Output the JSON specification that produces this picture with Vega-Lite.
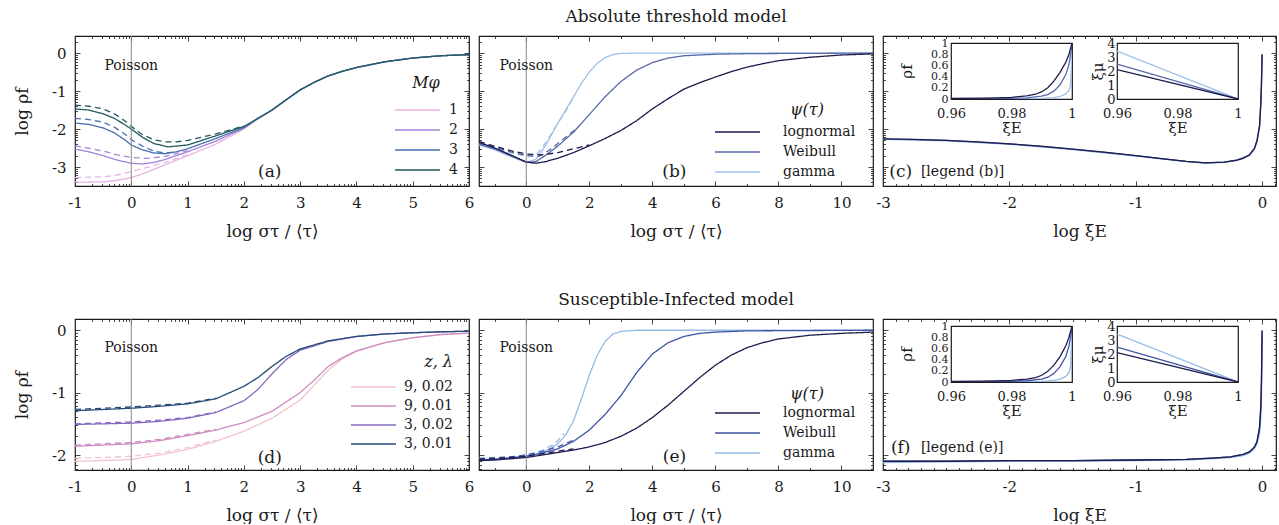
{
"$schema":"https://vega.github.io/schema/vega-lite/v6.json",
"padding":{"left":12,"top":6,"right":0,"bottom":0},
"background":"white",
"bounds":"flush",
"spacing":283,
"config":{
 "font":"DejaVu Serif",
 "view":{"stroke":"#1a1a1a","strokeWidth":1.2},
 "axis":{"domain":false,"grid":false,"labelFont":"DejaVu Serif","labelFontSize":15,"labelColor":"#1a1a1a","titleFont":"DejaVu Serif","titleFontSize":17,"titleFontWeight":"normal","titleColor":"#1a1a1a","tickColor":"#333333","tickWidth":0.9,"tickSize":-5,"labelPadding":14,"labelFlush":false,"labelOverlap":false,"labelBound":false},
 "axisX":{"titlePadding":13},
 "axisY":{"titlePadding":20},
 "legend":{"orient":"none","labelFont":"DejaVu Serif","labelFontSize":14,"labelColor":"#1a1a1a","titleFont":"DejaVu Serif","titleFontSize":16,"titleFontWeight":"normal","titleFontStyle":"italic","titleColor":"#1a1a1a","symbolType":"stroke","symbolStrokeWidth":1.5,"symbolSize":2025,"padding":0,"rowPadding":2,"clipHeight":18},
 "title":{"font":"DejaVu Serif","fontSize":17,"fontWeight":"normal","color":"#1a1a1a","offset":10,"anchor":"middle"},
 "text":{"font":"DejaVu Serif","color":"#1a1a1a"}
},
"resolve":{"scale":{"color":"independent","strokeDash":"independent"}},
"vconcat":[
{"bounds":"flush","spacing":10,"resolve":{"scale":{"color":"independent","strokeDash":"independent"}},
 "hconcat":[
 {"width":394,"height":150,
  "layer":[
   {"data":{"values":[
{"s":"1","k":"sim","x":-1,"y":-3.4},{"s":"1","k":"sim","x":-0.5,"y":-3.39},{"s":"1","k":"sim","x":-0.25,"y":-3.35},{"s":"1","k":"sim","x":0,"y":-3.28},{"s":"1","k":"sim","x":0.2,"y":-3.18},{"s":"1","k":"sim","x":0.4,"y":-3.06},{"s":"1","k":"sim","x":0.6,"y":-2.94},{"s":"1","k":"sim","x":1,"y":-2.7},{"s":"1","k":"sim","x":1.5,"y":-2.4},{"s":"1","k":"sim","x":2,"y":-2.0},{"s":"1","k":"sim","x":2.25,"y":-1.73},{"s":"1","k":"sim","x":2.5,"y":-1.51},{"s":"1","k":"sim","x":2.75,"y":-1.24},{"s":"1","k":"sim","x":3,"y":-0.98},{"s":"1","k":"sim","x":3.25,"y":-0.77},{"s":"1","k":"sim","x":3.5,"y":-0.6},{"s":"1","k":"sim","x":3.75,"y":-0.48},{"s":"1","k":"sim","x":4,"y":-0.38},{"s":"1","k":"sim","x":4.5,"y":-0.23},{"s":"1","k":"sim","x":5,"y":-0.13},{"s":"1","k":"sim","x":5.5,"y":-0.07},{"s":"1","k":"sim","x":6,"y":-0.04},
{"s":"1","k":"th","x":-1,"y":-3.28},{"s":"1","k":"th","x":-0.5,"y":-3.26},{"s":"1","k":"th","x":-0.25,"y":-3.21},{"s":"1","k":"th","x":0,"y":-3.12},{"s":"1","k":"th","x":0.3,"y":-3.0},{"s":"1","k":"th","x":0.6,"y":-2.88},{"s":"1","k":"th","x":1,"y":-2.68},
{"s":"2","k":"sim","x":-1,"y":-2.53},{"s":"2","k":"sim","x":-0.75,"y":-2.6},{"s":"2","k":"sim","x":-0.5,"y":-2.7},{"s":"2","k":"sim","x":-0.25,"y":-2.82},{"s":"2","k":"sim","x":0,"y":-2.9},{"s":"2","k":"sim","x":0.2,"y":-2.92},{"s":"2","k":"sim","x":0.4,"y":-2.88},{"s":"2","k":"sim","x":0.6,"y":-2.8},{"s":"2","k":"sim","x":1,"y":-2.6},{"s":"2","k":"sim","x":1.5,"y":-2.32},{"s":"2","k":"sim","x":2,"y":-1.98},{"s":"2","k":"sim","x":2.25,"y":-1.72},{"s":"2","k":"sim","x":2.5,"y":-1.5},{"s":"2","k":"sim","x":2.75,"y":-1.23},{"s":"2","k":"sim","x":3,"y":-0.97},{"s":"2","k":"sim","x":3.25,"y":-0.77},{"s":"2","k":"sim","x":3.5,"y":-0.6},{"s":"2","k":"sim","x":3.75,"y":-0.48},{"s":"2","k":"sim","x":4,"y":-0.38},{"s":"2","k":"sim","x":4.5,"y":-0.23},{"s":"2","k":"sim","x":5,"y":-0.13},{"s":"2","k":"sim","x":5.5,"y":-0.07},{"s":"2","k":"sim","x":6,"y":-0.04},
{"s":"2","k":"th","x":-1,"y":-2.44},{"s":"2","k":"th","x":-0.5,"y":-2.58},{"s":"2","k":"th","x":-0.25,"y":-2.68},{"s":"2","k":"th","x":0,"y":-2.75},{"s":"2","k":"th","x":0.3,"y":-2.77},{"s":"2","k":"th","x":0.6,"y":-2.72},{"s":"2","k":"th","x":1,"y":-2.57},
{"s":"3","k":"sim","x":-1,"y":-1.84},{"s":"3","k":"sim","x":-0.75,"y":-1.88},{"s":"3","k":"sim","x":-0.5,"y":-1.97},{"s":"3","k":"sim","x":-0.3,"y":-2.1},{"s":"3","k":"sim","x":-0.1,"y":-2.3},{"s":"3","k":"sim","x":0,"y":-2.42},{"s":"3","k":"sim","x":0.2,"y":-2.55},{"s":"3","k":"sim","x":0.4,"y":-2.63},{"s":"3","k":"sim","x":0.6,"y":-2.65},{"s":"3","k":"sim","x":0.8,"y":-2.6},{"s":"3","k":"sim","x":1,"y":-2.52},{"s":"3","k":"sim","x":1.5,"y":-2.25},{"s":"3","k":"sim","x":2,"y":-1.96},{"s":"3","k":"sim","x":2.25,"y":-1.72},{"s":"3","k":"sim","x":2.5,"y":-1.5},{"s":"3","k":"sim","x":2.75,"y":-1.23},{"s":"3","k":"sim","x":3,"y":-0.97},{"s":"3","k":"sim","x":3.25,"y":-0.77},{"s":"3","k":"sim","x":3.5,"y":-0.6},{"s":"3","k":"sim","x":3.75,"y":-0.48},{"s":"3","k":"sim","x":4,"y":-0.38},{"s":"3","k":"sim","x":4.5,"y":-0.23},{"s":"3","k":"sim","x":5,"y":-0.13},{"s":"3","k":"sim","x":5.5,"y":-0.07},{"s":"3","k":"sim","x":6,"y":-0.04},
{"s":"3","k":"th","x":-1,"y":-1.72},{"s":"3","k":"th","x":-0.75,"y":-1.75},{"s":"3","k":"th","x":-0.5,"y":-1.82},{"s":"3","k":"th","x":-0.3,"y":-1.95},{"s":"3","k":"th","x":-0.1,"y":-2.15},{"s":"3","k":"th","x":0,"y":-2.28},{"s":"3","k":"th","x":0.2,"y":-2.45},{"s":"3","k":"th","x":0.4,"y":-2.58},{"s":"3","k":"th","x":0.6,"y":-2.63},{"s":"3","k":"th","x":0.8,"y":-2.6},
{"s":"4","k":"sim","x":-1,"y":-1.47},{"s":"4","k":"sim","x":-0.75,"y":-1.5},{"s":"4","k":"sim","x":-0.5,"y":-1.6},{"s":"4","k":"sim","x":-0.3,"y":-1.72},{"s":"4","k":"sim","x":-0.1,"y":-1.9},{"s":"4","k":"sim","x":0,"y":-2.0},{"s":"4","k":"sim","x":0.2,"y":-2.22},{"s":"4","k":"sim","x":0.4,"y":-2.38},{"s":"4","k":"sim","x":0.65,"y":-2.47},{"s":"4","k":"sim","x":1,"y":-2.42},{"s":"4","k":"sim","x":1.5,"y":-2.18},{"s":"4","k":"sim","x":2,"y":-1.93},{"s":"4","k":"sim","x":2.25,"y":-1.72},{"s":"4","k":"sim","x":2.5,"y":-1.5},{"s":"4","k":"sim","x":2.75,"y":-1.23},{"s":"4","k":"sim","x":3,"y":-0.97},{"s":"4","k":"sim","x":3.25,"y":-0.77},{"s":"4","k":"sim","x":3.5,"y":-0.6},{"s":"4","k":"sim","x":3.75,"y":-0.48},{"s":"4","k":"sim","x":4,"y":-0.38},{"s":"4","k":"sim","x":4.5,"y":-0.23},{"s":"4","k":"sim","x":5,"y":-0.13},{"s":"4","k":"sim","x":5.5,"y":-0.07},{"s":"4","k":"sim","x":6,"y":-0.04},
{"s":"4","k":"th","x":-1,"y":-1.37},{"s":"4","k":"th","x":-0.75,"y":-1.4},{"s":"4","k":"th","x":-0.5,"y":-1.47},{"s":"4","k":"th","x":-0.3,"y":-1.6},{"s":"4","k":"th","x":-0.1,"y":-1.8},{"s":"4","k":"th","x":0,"y":-1.93},{"s":"4","k":"th","x":0.2,"y":-2.15},{"s":"4","k":"th","x":0.4,"y":-2.28},{"s":"4","k":"th","x":0.6,"y":-2.34},{"s":"4","k":"th","x":0.8,"y":-2.34},{"s":"4","k":"th","x":1,"y":-2.3},{"s":"4","k":"th","x":1.5,"y":-2.13},{"s":"4","k":"th","x":2,"y":-1.92}
   ]},
   "mark":{"type":"line","strokeWidth":1.3,"clip":true},
   "encoding":{
    "x":{"field":"x","type":"quantitative","scale":{"domain":[-1,6],"nice":false,"zero":false},"axis":{"orient":"bottom","values":[-1,0,1,2,3,4,5,6],"labelExpr":"datum.value < 0 ? '-' + abs(datum.value) : '' + datum.value","title":"log στ / ⟨τ⟩"}},
    "y":{"field":"y","type":"quantitative","scale":{"domain":[-3.5,0.45],"nice":false,"zero":false},"axis":{"orient":"left","values":[-3,-2,-1,0],"labelExpr":"datum.value < 0 ? '-' + abs(datum.value) : '' + datum.value","title":"log ρf"}},
    "color":{"field":"s","type":"nominal","scale":{"domain":["1","2","3","4"],"range":["#e6b3e3","#a384d8","#4d6db0","#1f5b5f"]},"legend":{"title":"Mφ","legendX":319,"legendY":39,"titleAnchor":"middle","labelOffset":8,"titlePadding":10}},
    "strokeDash":{"field":"k","type":"nominal","scale":{"domain":["sim","th"],"range":[[1,0],[6,4]]},"legend":null}
   }},
   {"data":{"values":[{"x":0}]},"mark":{"type":"rule","color":"#888888","strokeWidth":1},
    "encoding":{"x":{"field":"x","type":"quantitative","scale":{"domain":[-1,6],"nice":false,"zero":false},"axis":{"orient":"bottom","labels":false,"title":null,"tickSize":-2.5,"values":[-0.699,-0.523,-0.398,-0.301,-0.222,-0.155,-0.097,-0.046,0.301,0.477,0.602,0.699,0.778,0.845,0.903,0.954,1.301,1.477,1.602,1.699,1.778,1.845,1.903,1.954,2.301,2.477,2.602,2.699,2.778,2.845,2.903,2.954,3.301,3.477,3.602,3.699,3.778,3.845,3.903,3.954,4.301,4.477,4.602,4.699,4.778,4.845,4.903,4.954,5.301,5.477,5.602,5.699,5.778,5.845,5.903,5.954]}}}},
   {"data":{"values":[{"x":0,"y":-0.34,"t":"Poisson"}]},"mark":{"type":"text","fontSize":14},
    "encoding":{"x":{"field":"x","type":"quantitative","scale":{"domain":[-1,6],"nice":false,"zero":false},"axis":{"orient":"top","labels":false,"title":null,"values":[-1,0,1,2,3,4,5,6]}},
     "y":{"field":"y","type":"quantitative","scale":{"domain":[-3.5,0.45],"nice":false,"zero":false},"axis":{"orient":"left","labels":false,"title":null,"tickSize":-2.5,"values":[-3.398,-3.301,-3.222,-3.155,-3.097,-3.046,-2.699,-2.523,-2.398,-2.301,-2.222,-2.155,-2.097,-2.046,-1.699,-1.523,-1.398,-1.301,-1.222,-1.155,-1.097,-1.046,-0.699,-0.523,-0.398,-0.301,-0.222,-0.155,-0.097,-0.046,0.301]}},
     "text":{"field":"t"}}},
   {"data":{"values":[{"x":2.46,"y":-3.13,"t":"(a)"}]},"mark":{"type":"text","fontSize":17},
    "encoding":{"x":{"field":"x","type":"quantitative","scale":{"domain":[-1,6],"nice":false,"zero":false},"axis":{"orient":"top","labels":false,"title":null,"tickSize":-2.5,"values":[-0.699,-0.523,-0.398,-0.301,-0.222,-0.155,-0.097,-0.046,0.301,0.477,0.602,0.699,0.778,0.845,0.903,0.954,1.301,1.477,1.602,1.699,1.778,1.845,1.903,1.954,2.301,2.477,2.602,2.699,2.778,2.845,2.903,2.954,3.301,3.477,3.602,3.699,3.778,3.845,3.903,3.954,4.301,4.477,4.602,4.699,4.778,4.845,4.903,4.954,5.301,5.477,5.602,5.699,5.778,5.845,5.903,5.954]}},
     "y":{"field":"y","type":"quantitative","scale":{"domain":[-3.5,0.45],"nice":false,"zero":false},"axis":{"orient":"right","labels":false,"title":null,"values":[-3,-2,-1,0]}},
     "text":{"field":"t"}}},
   {"data":{"values":[]},"mark":{"type":"point","opacity":0},
    "encoding":{"x":{"field":"x","type":"quantitative","scale":{"domain":[-1,6],"nice":false,"zero":false},"axis":null},
     "y":{"field":"y","type":"quantitative","scale":{"domain":[-3.5,0.45],"nice":false,"zero":false},"axis":{"orient":"right","labels":false,"title":null,"tickSize":-2.5,"values":[-3.398,-3.301,-3.222,-3.155,-3.097,-3.046,-2.699,-2.523,-2.398,-2.301,-2.222,-2.155,-2.097,-2.046,-1.699,-1.523,-1.398,-1.301,-1.222,-1.155,-1.097,-1.046,-0.699,-0.523,-0.398,-0.301,-0.222,-0.155,-0.097,-0.046,0.301]}}}}
  ],
  "resolve":{"axis":{"x":"independent","y":"independent"}}
 },
 {"width":394,"height":150,"title":{"text":"Absolute threshold model"},
  "layer":[
   {"data":{"values":[
{"s":"gamma","k":"sim","x":-1.5,"y":-2.42},{"s":"gamma","k":"sim","x":-1,"y":-2.55},{"s":"gamma","k":"sim","x":-0.5,"y":-2.72},{"s":"gamma","k":"sim","x":0,"y":-2.88},{"s":"gamma","k":"sim","x":0.3,"y":-2.8},{"s":"gamma","k":"sim","x":0.6,"y":-2.45},{"s":"gamma","k":"sim","x":0.8,"y":-2.15},{"s":"gamma","k":"sim","x":1,"y":-1.85},{"s":"gamma","k":"sim","x":1.25,"y":-1.5},{"s":"gamma","k":"sim","x":1.5,"y":-1.15},{"s":"gamma","k":"sim","x":1.75,"y":-0.8},{"s":"gamma","k":"sim","x":2,"y":-0.5},{"s":"gamma","k":"sim","x":2.25,"y":-0.27},{"s":"gamma","k":"sim","x":2.5,"y":-0.12},{"s":"gamma","k":"sim","x":2.75,"y":-0.04},{"s":"gamma","k":"sim","x":3,"y":-0.01},{"s":"gamma","k":"sim","x":3.5,"y":0},{"s":"gamma","k":"sim","x":11,"y":0},
{"s":"gamma","k":"th","x":-1.5,"y":-2.4},{"s":"gamma","k":"th","x":-1,"y":-2.5},{"s":"gamma","k":"th","x":-0.5,"y":-2.62},{"s":"gamma","k":"th","x":0,"y":-2.72},{"s":"gamma","k":"th","x":0.3,"y":-2.7},{"s":"gamma","k":"th","x":0.6,"y":-2.38},{"s":"gamma","k":"th","x":0.9,"y":-1.97},{"s":"gamma","k":"th","x":1.2,"y":-1.6},{"s":"gamma","k":"th","x":1.5,"y":-1.17},
{"s":"Weibull","k":"sim","x":-1.5,"y":-2.4},{"s":"Weibull","k":"sim","x":-1,"y":-2.52},{"s":"Weibull","k":"sim","x":-0.5,"y":-2.7},{"s":"Weibull","k":"sim","x":0,"y":-2.87},{"s":"Weibull","k":"sim","x":0.3,"y":-2.86},{"s":"Weibull","k":"sim","x":0.6,"y":-2.7},{"s":"Weibull","k":"sim","x":1,"y":-2.45},{"s":"Weibull","k":"sim","x":1.5,"y":-2.08},{"s":"Weibull","k":"sim","x":2,"y":-1.62},{"s":"Weibull","k":"sim","x":2.5,"y":-1.15},{"s":"Weibull","k":"sim","x":3,"y":-0.75},{"s":"Weibull","k":"sim","x":3.5,"y":-0.45},{"s":"Weibull","k":"sim","x":4,"y":-0.25},{"s":"Weibull","k":"sim","x":4.5,"y":-0.13},{"s":"Weibull","k":"sim","x":5,"y":-0.07},{"s":"Weibull","k":"sim","x":6,"y":-0.03},{"s":"Weibull","k":"sim","x":7,"y":-0.015},{"s":"Weibull","k":"sim","x":8,"y":-0.01},{"s":"Weibull","k":"sim","x":11,"y":0},
{"s":"Weibull","k":"th","x":-1.5,"y":-2.38},{"s":"Weibull","k":"th","x":-1,"y":-2.48},{"s":"Weibull","k":"th","x":-0.5,"y":-2.6},{"s":"Weibull","k":"th","x":0,"y":-2.7},{"s":"Weibull","k":"th","x":0.4,"y":-2.72},{"s":"Weibull","k":"th","x":0.8,"y":-2.52},{"s":"Weibull","k":"th","x":1.2,"y":-2.25},{"s":"Weibull","k":"th","x":1.6,"y":-1.98},
{"s":"lognormal","k":"sim","x":-1.5,"y":-2.35},{"s":"lognormal","k":"sim","x":-1,"y":-2.5},{"s":"lognormal","k":"sim","x":-0.5,"y":-2.68},{"s":"lognormal","k":"sim","x":0,"y":-2.87},{"s":"lognormal","k":"sim","x":0.3,"y":-2.9},{"s":"lognormal","k":"sim","x":0.6,"y":-2.86},{"s":"lognormal","k":"sim","x":1,"y":-2.77},{"s":"lognormal","k":"sim","x":1.5,"y":-2.62},{"s":"lognormal","k":"sim","x":2,"y":-2.44},{"s":"lognormal","k":"sim","x":2.5,"y":-2.25},{"s":"lognormal","k":"sim","x":3,"y":-2.04},{"s":"lognormal","k":"sim","x":3.5,"y":-1.78},{"s":"lognormal","k":"sim","x":4,"y":-1.47},{"s":"lognormal","k":"sim","x":4.5,"y":-1.2},{"s":"lognormal","k":"sim","x":5,"y":-0.95},{"s":"lognormal","k":"sim","x":5.5,"y":-0.78},{"s":"lognormal","k":"sim","x":6,"y":-0.63},{"s":"lognormal","k":"sim","x":6.5,"y":-0.49},{"s":"lognormal","k":"sim","x":7,"y":-0.37},{"s":"lognormal","k":"sim","x":7.5,"y":-0.28},{"s":"lognormal","k":"sim","x":8,"y":-0.2},{"s":"lognormal","k":"sim","x":9,"y":-0.11},{"s":"lognormal","k":"sim","x":10,"y":-0.05},{"s":"lognormal","k":"sim","x":11,"y":-0.02},
{"s":"lognormal","k":"th","x":-1.5,"y":-2.33},{"s":"lognormal","k":"th","x":-1,"y":-2.45},{"s":"lognormal","k":"th","x":-0.5,"y":-2.57},{"s":"lognormal","k":"th","x":0,"y":-2.66},{"s":"lognormal","k":"th","x":0.5,"y":-2.68},{"s":"lognormal","k":"th","x":1,"y":-2.62},{"s":"lognormal","k":"th","x":1.5,"y":-2.52},{"s":"lognormal","k":"th","x":2,"y":-2.42}
   ]},
   "mark":{"type":"line","strokeWidth":1.3,"clip":true},
   "encoding":{
    "x":{"field":"x","type":"quantitative","scale":{"domain":[-1.5,11],"nice":false,"zero":false},"axis":{"orient":"bottom","values":[0,2,4,6,8,10],"title":"log στ / ⟨τ⟩"}},
    "y":{"field":"y","type":"quantitative","scale":{"domain":[-3.5,0.45],"nice":false,"zero":false},"axis":{"orient":"left","values":[-3,-2,-1,0],"labels":false,"title":null}},
    "color":{"field":"s","type":"nominal","scale":{"domain":["lognormal","Weibull","gamma"],"range":["#1c1b4c","#5869a9","#9ec0e9"]},"legend":{"title":"ψ(τ)","legendX":235,"legendY":66,"titleAnchor":"middle","labelOffset":22,"titlePadding":5,"encode":{"title":{"update":{"dx":{"value":22}}}}}},
    "strokeDash":{"field":"k","type":"nominal","scale":{"domain":["sim","th"],"range":[[1,0],[6,4]]},"legend":null}
   }},
   {"data":{"values":[{"x":0}]},"mark":{"type":"rule","color":"#888888","strokeWidth":1},
    "encoding":{"x":{"field":"x","type":"quantitative","scale":{"domain":[-1.5,11],"nice":false,"zero":false},"axis":{"orient":"bottom","labels":false,"title":null,"tickSize":-2.5,"values":[-1,1,3,5,7,9]}}}},
   {"data":{"values":[{"x":0,"y":-0.34,"t":"Poisson"}]},"mark":{"type":"text","fontSize":14},
    "encoding":{"x":{"field":"x","type":"quantitative","scale":{"domain":[-1.5,11],"nice":false,"zero":false},"axis":{"orient":"top","labels":false,"title":null,"values":[0,2,4,6,8,10]}},
     "y":{"field":"y","type":"quantitative","scale":{"domain":[-3.5,0.45],"nice":false,"zero":false},"axis":{"orient":"left","labels":false,"title":null,"tickSize":-2.5,"values":[-3.398,-3.301,-3.222,-3.155,-3.097,-3.046,-2.699,-2.523,-2.398,-2.301,-2.222,-2.155,-2.097,-2.046,-1.699,-1.523,-1.398,-1.301,-1.222,-1.155,-1.097,-1.046,-0.699,-0.523,-0.398,-0.301,-0.222,-0.155,-0.097,-0.046,0.301]}},
     "text":{"field":"t"}}},
   {"data":{"values":[{"x":4.7,"y":-3.13,"t":"(b)"}]},"mark":{"type":"text","fontSize":17},
    "encoding":{"x":{"field":"x","type":"quantitative","scale":{"domain":[-1.5,11],"nice":false,"zero":false},"axis":{"orient":"top","labels":false,"title":null,"tickSize":-2.5,"values":[-1,1,3,5,7,9]}},
     "y":{"field":"y","type":"quantitative","scale":{"domain":[-3.5,0.45],"nice":false,"zero":false},"axis":{"orient":"right","labels":false,"title":null,"values":[-3,-2,-1,0]}},
     "text":{"field":"t"}}},
   {"data":{"values":[]},"mark":{"type":"point","opacity":0},
    "encoding":{"x":{"field":"x","type":"quantitative","scale":{"domain":[-1.5,11],"nice":false,"zero":false},"axis":null},
     "y":{"field":"y","type":"quantitative","scale":{"domain":[-3.5,0.45],"nice":false,"zero":false},"axis":{"orient":"right","labels":false,"title":null,"tickSize":-2.5,"values":[-3.398,-3.301,-3.222,-3.155,-3.097,-3.046,-2.699,-2.523,-2.398,-2.301,-2.222,-2.155,-2.097,-2.046,-1.699,-1.523,-1.398,-1.301,-1.222,-1.155,-1.097,-1.046,-0.699,-0.523,-0.398,-0.301,-0.222,-0.155,-0.097,-0.046,0.301]}}}}
  ],
  "resolve":{"axis":{"x":"independent","y":"independent"}}
 },
 {"bounds":"flush","spacing":0,"resolve":{"scale":{"color":"independent","strokeDash":"independent"}},
  "vconcat":[
  {"bounds":"flush","spacing":6,"resolve":{"scale":{"color":"independent"}},
   "vconcat":[
    {"width":1,"height":1,"view":{"stroke":null},"data":{"values":[{}]},"mark":{"type":"point","opacity":0},"encoding":{}},
    {"bounds":"flush","spacing":45,"resolve":{"scale":{"color":"independent"}},
     "hconcat":[
      {"width":23,"height":1,"view":{"stroke":null},"data":{"values":[{}]},"mark":{"type":"point","opacity":0},"encoding":{}},
      {"width":121,"height":56,
       "data":{"values":[
{"s":"gamma","x":0.96,"y":0.002},{"s":"gamma","x":0.98,"y":0.004},{"s":"gamma","x":0.99,"y":0.01},{"s":"gamma","x":0.994,"y":0.025},{"s":"gamma","x":0.996,"y":0.045},{"s":"gamma","x":0.998,"y":0.09},{"s":"gamma","x":0.999,"y":0.15},{"s":"gamma","x":0.9995,"y":0.25},{"s":"gamma","x":1,"y":0.8},
{"s":"Weibull","x":0.96,"y":0.005},{"s":"Weibull","x":0.97,"y":0.008},{"s":"Weibull","x":0.98,"y":0.012},{"s":"Weibull","x":0.985,"y":0.02},{"s":"Weibull","x":0.99,"y":0.05},{"s":"Weibull","x":0.992,"y":0.08},{"s":"Weibull","x":0.994,"y":0.14},{"s":"Weibull","x":0.996,"y":0.25},{"s":"Weibull","x":0.998,"y":0.44},{"s":"Weibull","x":0.999,"y":0.62},{"s":"Weibull","x":1,"y":0.95},
{"s":"lognormal","x":0.96,"y":0.01},{"s":"lognormal","x":0.97,"y":0.015},{"s":"lognormal","x":0.975,"y":0.02},{"s":"lognormal","x":0.98,"y":0.03},{"s":"lognormal","x":0.985,"y":0.055},{"s":"lognormal","x":0.988,"y":0.085},{"s":"lognormal","x":0.99,"y":0.13},{"s":"lognormal","x":0.992,"y":0.2},{"s":"lognormal","x":0.994,"y":0.32},{"s":"lognormal","x":0.996,"y":0.47},{"s":"lognormal","x":0.998,"y":0.66},{"s":"lognormal","x":0.999,"y":0.8},{"s":"lognormal","x":1,"y":1.0}
       ]},
       "mark":{"type":"line","strokeWidth":1.3,"clip":true},
       "encoding":{
        "x":{"field":"x","type":"quantitative","scale":{"domain":[0.96,1],"nice":false,"zero":false},"axis":{"values":[0.96,0.98,1],"format":".2~f","title":"ξE","ticks":false,"tickSize":0,"labelFontSize":13,"labelPadding":8,"titlePadding":0,"titleFontSize":15}},
        "y":{"field":"y","type":"quantitative","scale":{"domain":[0,1],"nice":false},"axis":{"values":[0,0.2,0.4,0.6,0.8,1],"format":".1~f","title":"ρf","ticks":false,"tickSize":0,"labelFontSize":11,"labelPadding":3,"titlePadding":16,"titleFontSize":15}},
        "color":{"field":"s","type":"nominal","scale":{"domain":["lognormal","Weibull","gamma"],"range":["#1c1b4c","#5869a9","#9ec0e9"]},"legend":null}
       }},
      {"width":121,"height":56,
       "data":{"values":[
{"s":"gamma","x":0.96,"y":3.43},{"s":"gamma","x":1,"y":0},
{"s":"Weibull","x":0.96,"y":2.5},{"s":"Weibull","x":1,"y":0},
{"s":"lognormal","x":0.96,"y":2.1},{"s":"lognormal","x":1,"y":0}
       ]},
       "mark":{"type":"line","strokeWidth":1.3,"clip":true},
       "encoding":{
        "x":{"field":"x","type":"quantitative","scale":{"domain":[0.96,1],"nice":false,"zero":false},"axis":{"values":[0.96,0.98,1],"format":".2~f","title":"ξE","ticks":false,"tickSize":0,"labelFontSize":13,"labelPadding":8,"titlePadding":0,"titleFontSize":15}},
        "y":{"field":"y","type":"quantitative","scale":{"domain":[0,4],"nice":false},"axis":{"values":[0,1,2,3,4],"format":"d","title":"ξμ","ticks":false,"tickSize":0,"labelFontSize":13,"labelPadding":2,"titlePadding":1,"titleFontSize":15}},
        "color":{"field":"s","type":"nominal","scale":{"domain":["lognormal","Weibull","gamma"],"range":["#1c1b4c","#5869a9","#9ec0e9"]},"legend":null}
       }}
     ]}
   ]},
  {"width":393,"height":150,
   "layer":[
    {"data":{"values":[
{"s":"gamma","x":-3,"y":-2.27},{"s":"gamma","x":-2.5,"y":-2.31},{"s":"gamma","x":-2,"y":-2.4},{"s":"gamma","x":-1.5,"y":-2.54},{"s":"gamma","x":-1,"y":-2.71},{"s":"gamma","x":-0.6,"y":-2.86},{"s":"gamma","x":-0.45,"y":-2.9},{"s":"gamma","x":-0.3,"y":-2.88},{"s":"gamma","x":-0.2,"y":-2.83},{"s":"gamma","x":-0.1,"y":-2.7},{"s":"gamma","x":-0.06,"y":-2.53},{"s":"gamma","x":-0.04,"y":-2.34},{"s":"gamma","x":-0.02,"y":-1.95},{"s":"gamma","x":-0.01,"y":-1.36},{"s":"gamma","x":-0.005,"y":-0.85},{"s":"gamma","x":0,"y":-0.05},
{"s":"Weibull","x":-3,"y":-2.26},{"s":"Weibull","x":-2.5,"y":-2.3},{"s":"Weibull","x":-2,"y":-2.39},{"s":"Weibull","x":-1.5,"y":-2.53},{"s":"Weibull","x":-1,"y":-2.7},{"s":"Weibull","x":-0.6,"y":-2.85},{"s":"Weibull","x":-0.45,"y":-2.89},{"s":"Weibull","x":-0.3,"y":-2.87},{"s":"Weibull","x":-0.2,"y":-2.82},{"s":"Weibull","x":-0.1,"y":-2.69},{"s":"Weibull","x":-0.06,"y":-2.51},{"s":"Weibull","x":-0.04,"y":-2.31},{"s":"Weibull","x":-0.02,"y":-1.92},{"s":"Weibull","x":-0.01,"y":-1.32},{"s":"Weibull","x":-0.005,"y":-0.82},{"s":"Weibull","x":0,"y":-0.04},
{"s":"lognormal","x":-3,"y":-2.26},{"s":"lognormal","x":-2.75,"y":-2.27},{"s":"lognormal","x":-2.5,"y":-2.3},{"s":"lognormal","x":-2.25,"y":-2.34},{"s":"lognormal","x":-2,"y":-2.39},{"s":"lognormal","x":-1.75,"y":-2.45},{"s":"lognormal","x":-1.5,"y":-2.53},{"s":"lognormal","x":-1.25,"y":-2.61},{"s":"lognormal","x":-1,"y":-2.7},{"s":"lognormal","x":-0.8,"y":-2.78},{"s":"lognormal","x":-0.6,"y":-2.85},{"s":"lognormal","x":-0.45,"y":-2.89},{"s":"lognormal","x":-0.3,"y":-2.87},{"s":"lognormal","x":-0.2,"y":-2.82},{"s":"lognormal","x":-0.15,"y":-2.77},{"s":"lognormal","x":-0.1,"y":-2.68},{"s":"lognormal","x":-0.06,"y":-2.5},{"s":"lognormal","x":-0.04,"y":-2.3},{"s":"lognormal","x":-0.02,"y":-1.9},{"s":"lognormal","x":-0.01,"y":-1.3},{"s":"lognormal","x":-0.005,"y":-0.8},{"s":"lognormal","x":0,"y":-0.03}
    ]},
    "mark":{"type":"line","strokeWidth":1.3,"clip":true},
    "encoding":{
     "x":{"field":"x","type":"quantitative","scale":{"domain":[-3,0.11],"nice":false,"zero":false},"axis":{"orient":"bottom","values":[-3,-2,-1,0],"labelExpr":"datum.value < 0 ? '-' + abs(datum.value) : '' + datum.value","title":"log ξE"}},
     "y":{"field":"y","type":"quantitative","scale":{"domain":[-3.5,0.45],"nice":false,"zero":false},"axis":{"orient":"left","values":[-3,-2,-1,0],"labels":false,"title":null}},
     "color":{"field":"s","type":"nominal","scale":{"domain":["lognormal","Weibull","gamma"],"range":["#1c1b4c","#5869a9","#9ec0e9"]},"legend":null}
    }},
    {"data":{"values":[{"x":-2.86,"y":-3.13,"t":"(c)"}]},"mark":{"type":"text","fontSize":17},
     "encoding":{"x":{"field":"x","type":"quantitative","scale":{"domain":[-3,0.11],"nice":false,"zero":false},"axis":{"orient":"bottom","labels":false,"title":null,"tickSize":-2.5,"values":[-2.9,-2.8,-2.7,-2.6,-2.5,-2.4,-2.3,-2.2,-2.1,-1.9,-1.8,-1.7,-1.6,-1.5,-1.4,-1.3,-1.2,-1.1,-0.9,-0.8,-0.7,-0.6,-0.5,-0.4,-0.3,-0.2,-0.1,0.1]}},
      "y":{"field":"y","type":"quantitative","scale":{"domain":[-3.5,0.45],"nice":false,"zero":false},"axis":{"orient":"left","labels":false,"title":null,"tickSize":-2.5,"values":[-3.398,-3.301,-3.222,-3.155,-3.097,-3.046,-2.699,-2.523,-2.398,-2.301,-2.222,-2.155,-2.097,-2.046,-1.699,-1.523,-1.398,-1.301,-1.222,-1.155,-1.097,-1.046,-0.699,-0.523,-0.398,-0.301,-0.222,-0.155,-0.097,-0.046,0.301]}},
      "text":{"field":"t"}}},
    {"data":{"values":[{"x":-2.7,"y":-3.13,"t":"[legend (b)]"}]},"mark":{"type":"text","fontSize":14,"align":"left"},
     "encoding":{"x":{"field":"x","type":"quantitative","scale":{"domain":[-3,0.11],"nice":false,"zero":false},"axis":{"orient":"top","labels":false,"title":null,"values":[-3,-2,-1,0]}},
      "y":{"field":"y","type":"quantitative","scale":{"domain":[-3.5,0.45],"nice":false,"zero":false},"axis":{"orient":"right","labels":false,"title":null,"values":[-3,-2,-1,0]}},
      "text":{"field":"t"}}},
    {"data":{"values":[]},"mark":{"type":"point","opacity":0},
     "encoding":{"x":{"field":"x","type":"quantitative","scale":{"domain":[-3,0.11],"nice":false,"zero":false},"axis":{"orient":"top","labels":false,"title":null,"tickSize":-2.5,"values":[-2.9,-2.8,-2.7,-2.6,-2.5,-2.4,-2.3,-2.2,-2.1,-1.9,-1.8,-1.7,-1.6,-1.5,-1.4,-1.3,-1.2,-1.1,-0.9,-0.8,-0.7,-0.6,-0.5,-0.4,-0.3,-0.2,-0.1,0.1]}},
      "y":{"field":"y","type":"quantitative","scale":{"domain":[-3.5,0.45],"nice":false,"zero":false},"axis":{"orient":"right","labels":false,"title":null,"tickSize":-2.5,"values":[-3.398,-3.301,-3.222,-3.155,-3.097,-3.046,-2.699,-2.523,-2.398,-2.301,-2.222,-2.155,-2.097,-2.046,-1.699,-1.523,-1.398,-1.301,-1.222,-1.155,-1.097,-1.046,-0.699,-0.523,-0.398,-0.301,-0.222,-0.155,-0.097,-0.046,0.301]}}}}
   ],
   "resolve":{"axis":{"x":"independent","y":"independent"}}
  }
  ]}
 ]},
{"bounds":"flush","spacing":10,"resolve":{"scale":{"color":"independent","strokeDash":"independent"}},
 "hconcat":[
 {"width":394,"height":151,
  "layer":[
   {"data":{"values":[
{"s":"9, 0.02","k":"sim","x":-1,"y":-2.1},{"s":"9, 0.02","k":"sim","x":-0.5,"y":-2.09},{"s":"9, 0.02","k":"sim","x":0,"y":-2.07},{"s":"9, 0.02","k":"sim","x":0.5,"y":-2.0},{"s":"9, 0.02","k":"sim","x":1,"y":-1.91},{"s":"9, 0.02","k":"sim","x":1.5,"y":-1.78},{"s":"9, 0.02","k":"sim","x":2,"y":-1.62},{"s":"9, 0.02","k":"sim","x":2.5,"y":-1.41},{"s":"9, 0.02","k":"sim","x":3,"y":-1.12},{"s":"9, 0.02","k":"sim","x":3.25,"y":-0.88},{"s":"9, 0.02","k":"sim","x":3.5,"y":-0.64},{"s":"9, 0.02","k":"sim","x":3.75,"y":-0.46},{"s":"9, 0.02","k":"sim","x":4,"y":-0.34},{"s":"9, 0.02","k":"sim","x":4.5,"y":-0.2},{"s":"9, 0.02","k":"sim","x":5,"y":-0.12},{"s":"9, 0.02","k":"sim","x":5.5,"y":-0.07},{"s":"9, 0.02","k":"sim","x":6,"y":-0.045},
{"s":"9, 0.02","k":"th","x":-1,"y":-2.05},{"s":"9, 0.02","k":"th","x":-0.5,"y":-2.04},{"s":"9, 0.02","k":"th","x":0,"y":-2.02},{"s":"9, 0.02","k":"th","x":0.5,"y":-1.97},{"s":"9, 0.02","k":"th","x":1,"y":-1.88},{"s":"9, 0.02","k":"th","x":1.5,"y":-1.76},
{"s":"9, 0.01","k":"sim","x":-1,"y":-1.86},{"s":"9, 0.01","k":"sim","x":-0.5,"y":-1.84},{"s":"9, 0.01","k":"sim","x":0,"y":-1.82},{"s":"9, 0.01","k":"sim","x":0.5,"y":-1.77},{"s":"9, 0.01","k":"sim","x":1,"y":-1.69},{"s":"9, 0.01","k":"sim","x":1.5,"y":-1.6},{"s":"9, 0.01","k":"sim","x":2,"y":-1.48},{"s":"9, 0.01","k":"sim","x":2.5,"y":-1.3},{"s":"9, 0.01","k":"sim","x":3,"y":-1.0},{"s":"9, 0.01","k":"sim","x":3.25,"y":-0.8},{"s":"9, 0.01","k":"sim","x":3.5,"y":-0.58},{"s":"9, 0.01","k":"sim","x":3.75,"y":-0.44},{"s":"9, 0.01","k":"sim","x":4,"y":-0.33},{"s":"9, 0.01","k":"sim","x":4.5,"y":-0.2},{"s":"9, 0.01","k":"sim","x":5,"y":-0.12},{"s":"9, 0.01","k":"sim","x":5.5,"y":-0.07},{"s":"9, 0.01","k":"sim","x":6,"y":-0.045},
{"s":"9, 0.01","k":"th","x":-1,"y":-1.84},{"s":"9, 0.01","k":"th","x":0,"y":-1.8},{"s":"9, 0.01","k":"th","x":0.5,"y":-1.75},{"s":"9, 0.01","k":"th","x":1,"y":-1.67},{"s":"9, 0.01","k":"th","x":1.5,"y":-1.59},
{"s":"3, 0.02","k":"sim","x":-1,"y":-1.51},{"s":"3, 0.02","k":"sim","x":-0.5,"y":-1.5},{"s":"3, 0.02","k":"sim","x":0,"y":-1.49},{"s":"3, 0.02","k":"sim","x":0.5,"y":-1.46},{"s":"3, 0.02","k":"sim","x":1,"y":-1.41},{"s":"3, 0.02","k":"sim","x":1.5,"y":-1.32},{"s":"3, 0.02","k":"sim","x":2,"y":-1.13},{"s":"3, 0.02","k":"sim","x":2.25,"y":-0.95},{"s":"3, 0.02","k":"sim","x":2.5,"y":-0.7},{"s":"3, 0.02","k":"sim","x":2.75,"y":-0.47},{"s":"3, 0.02","k":"sim","x":3,"y":-0.32},{"s":"3, 0.02","k":"sim","x":3.5,"y":-0.18},{"s":"3, 0.02","k":"sim","x":4,"y":-0.1},{"s":"3, 0.02","k":"sim","x":4.5,"y":-0.06},{"s":"3, 0.02","k":"sim","x":5,"y":-0.04},{"s":"3, 0.02","k":"sim","x":6,"y":-0.015},
{"s":"3, 0.02","k":"th","x":-1,"y":-1.5},{"s":"3, 0.02","k":"th","x":0,"y":-1.47},{"s":"3, 0.02","k":"th","x":0.5,"y":-1.44},{"s":"3, 0.02","k":"th","x":1,"y":-1.4},{"s":"3, 0.02","k":"th","x":1.5,"y":-1.31},
{"s":"3, 0.01","k":"sim","x":-1,"y":-1.29},{"s":"3, 0.01","k":"sim","x":-0.5,"y":-1.27},{"s":"3, 0.01","k":"sim","x":0,"y":-1.25},{"s":"3, 0.01","k":"sim","x":0.5,"y":-1.22},{"s":"3, 0.01","k":"sim","x":1,"y":-1.18},{"s":"3, 0.01","k":"sim","x":1.5,"y":-1.1},{"s":"3, 0.01","k":"sim","x":2,"y":-0.9},{"s":"3, 0.01","k":"sim","x":2.25,"y":-0.76},{"s":"3, 0.01","k":"sim","x":2.5,"y":-0.58},{"s":"3, 0.01","k":"sim","x":2.75,"y":-0.42},{"s":"3, 0.01","k":"sim","x":3,"y":-0.3},{"s":"3, 0.01","k":"sim","x":3.5,"y":-0.17},{"s":"3, 0.01","k":"sim","x":4,"y":-0.1},{"s":"3, 0.01","k":"sim","x":4.5,"y":-0.06},{"s":"3, 0.01","k":"sim","x":5,"y":-0.04},{"s":"3, 0.01","k":"sim","x":5.5,"y":-0.025},{"s":"3, 0.01","k":"sim","x":6,"y":-0.015},
{"s":"3, 0.01","k":"th","x":-1,"y":-1.27},{"s":"3, 0.01","k":"th","x":0,"y":-1.23},{"s":"3, 0.01","k":"th","x":0.5,"y":-1.2},{"s":"3, 0.01","k":"th","x":1,"y":-1.17},{"s":"3, 0.01","k":"th","x":1.5,"y":-1.09}
   ]},
   "mark":{"type":"line","strokeWidth":1.3,"clip":true},
   "encoding":{
    "x":{"field":"x","type":"quantitative","scale":{"domain":[-1,6],"nice":false,"zero":false},"axis":{"orient":"bottom","values":[-1,0,1,2,3,4,5,6],"labelExpr":"datum.value < 0 ? '-' + abs(datum.value) : '' + datum.value","title":"log στ / ⟨τ⟩"}},
    "y":{"field":"y","type":"quantitative","scale":{"domain":[-2.24,0.18],"nice":false,"zero":false},"axis":{"orient":"left","values":[-2,-1,0],"labelExpr":"datum.value < 0 ? '-' + abs(datum.value) : '' + datum.value","title":"log ρf"}},
    "color":{"field":"s","type":"nominal","scale":{"domain":["9, 0.02","9, 0.01","3, 0.02","3, 0.01"],"range":["#f1c3ca","#cc8cc2","#8468c0","#244b78"]},"legend":{"title":"z, λ","legendX":275,"legendY":35,"titleAnchor":"end","labelOffset":7,"titlePadding":8,"rowPadding":1}},
    "strokeDash":{"field":"k","type":"nominal","scale":{"domain":["sim","th"],"range":[[1,0],[6,4]]},"legend":null}
   }},
   {"data":{"values":[{"x":0}]},"mark":{"type":"rule","color":"#888888","strokeWidth":1},
    "encoding":{"x":{"field":"x","type":"quantitative","scale":{"domain":[-1,6],"nice":false,"zero":false},"axis":{"orient":"bottom","labels":false,"title":null,"tickSize":-2.5,"values":[-0.699,-0.523,-0.398,-0.301,-0.222,-0.155,-0.097,-0.046,0.301,0.477,0.602,0.699,0.778,0.845,0.903,0.954,1.301,1.477,1.602,1.699,1.778,1.845,1.903,1.954,2.301,2.477,2.602,2.699,2.778,2.845,2.903,2.954,3.301,3.477,3.602,3.699,3.778,3.845,3.903,3.954,4.301,4.477,4.602,4.699,4.778,4.845,4.903,4.954,5.301,5.477,5.602,5.699,5.778,5.845,5.903,5.954]}}}},
   {"data":{"values":[{"x":0,"y":-0.29,"t":"Poisson"}]},"mark":{"type":"text","fontSize":14},
    "encoding":{"x":{"field":"x","type":"quantitative","scale":{"domain":[-1,6],"nice":false,"zero":false},"axis":{"orient":"top","labels":false,"title":null,"values":[-1,0,1,2,3,4,5,6]}},
     "y":{"field":"y","type":"quantitative","scale":{"domain":[-2.24,0.18],"nice":false,"zero":false},"axis":{"orient":"left","labels":false,"title":null,"tickSize":-2.5,"values":[-2.222,-2.155,-2.097,-2.046,-1.699,-1.523,-1.398,-1.301,-1.222,-1.155,-1.097,-1.046,-0.699,-0.523,-0.398,-0.301,-0.222,-0.155,-0.097,-0.046]}},
     "text":{"field":"t"}}},
   {"data":{"values":[{"x":2.46,"y":-2.05,"t":"(d)"}]},"mark":{"type":"text","fontSize":17},
    "encoding":{"x":{"field":"x","type":"quantitative","scale":{"domain":[-1,6],"nice":false,"zero":false},"axis":{"orient":"top","labels":false,"title":null,"tickSize":-2.5,"values":[-0.699,-0.523,-0.398,-0.301,-0.222,-0.155,-0.097,-0.046,0.301,0.477,0.602,0.699,0.778,0.845,0.903,0.954,1.301,1.477,1.602,1.699,1.778,1.845,1.903,1.954,2.301,2.477,2.602,2.699,2.778,2.845,2.903,2.954,3.301,3.477,3.602,3.699,3.778,3.845,3.903,3.954,4.301,4.477,4.602,4.699,4.778,4.845,4.903,4.954,5.301,5.477,5.602,5.699,5.778,5.845,5.903,5.954]}},
     "y":{"field":"y","type":"quantitative","scale":{"domain":[-2.24,0.18],"nice":false,"zero":false},"axis":{"orient":"right","labels":false,"title":null,"values":[-2,-1,0]}},
     "text":{"field":"t"}}},
   {"data":{"values":[]},"mark":{"type":"point","opacity":0},
    "encoding":{"x":{"field":"x","type":"quantitative","scale":{"domain":[-1,6],"nice":false,"zero":false},"axis":null},
     "y":{"field":"y","type":"quantitative","scale":{"domain":[-2.24,0.18],"nice":false,"zero":false},"axis":{"orient":"right","labels":false,"title":null,"tickSize":-2.5,"values":[-2.222,-2.155,-2.097,-2.046,-1.699,-1.523,-1.398,-1.301,-1.222,-1.155,-1.097,-1.046,-0.699,-0.523,-0.398,-0.301,-0.222,-0.155,-0.097,-0.046]}}}}
  ],
  "resolve":{"axis":{"x":"independent","y":"independent"}}
 },
 {"width":394,"height":151,"title":{"text":"Susceptible-Infected model"},
  "layer":[
   {"data":{"values":[
{"s":"gamma","k":"sim","x":-1.5,"y":-2.07},{"s":"gamma","k":"sim","x":-1,"y":-2.06},{"s":"gamma","k":"sim","x":-0.5,"y":-2.04},{"s":"gamma","k":"sim","x":0,"y":-2.02},{"s":"gamma","k":"sim","x":0.5,"y":-1.96},{"s":"gamma","k":"sim","x":0.75,"y":-1.9},{"s":"gamma","k":"sim","x":1,"y":-1.82},{"s":"gamma","k":"sim","x":1.25,"y":-1.68},{"s":"gamma","k":"sim","x":1.5,"y":-1.45},{"s":"gamma","k":"sim","x":1.75,"y":-1.1},{"s":"gamma","k":"sim","x":2,"y":-0.72},{"s":"gamma","k":"sim","x":2.25,"y":-0.4},{"s":"gamma","k":"sim","x":2.5,"y":-0.18},{"s":"gamma","k":"sim","x":2.75,"y":-0.06},{"s":"gamma","k":"sim","x":3,"y":-0.02},{"s":"gamma","k":"sim","x":3.5,"y":0},{"s":"gamma","k":"sim","x":11,"y":0},
{"s":"gamma","k":"th","x":-1.5,"y":-2.05},{"s":"gamma","k":"th","x":-0.5,"y":-2.03},{"s":"gamma","k":"th","x":0,"y":-2.0},{"s":"gamma","k":"th","x":0.5,"y":-1.93},{"s":"gamma","k":"th","x":0.9,"y":-1.82},{"s":"gamma","k":"th","x":1.2,"y":-1.66},
{"s":"Weibull","k":"sim","x":-1.5,"y":-2.08},{"s":"Weibull","k":"sim","x":-1,"y":-2.07},{"s":"Weibull","k":"sim","x":-0.5,"y":-2.05},{"s":"Weibull","k":"sim","x":0,"y":-2.02},{"s":"Weibull","k":"sim","x":0.5,"y":-1.97},{"s":"Weibull","k":"sim","x":1,"y":-1.9},{"s":"Weibull","k":"sim","x":1.5,"y":-1.78},{"s":"Weibull","k":"sim","x":2,"y":-1.6},{"s":"Weibull","k":"sim","x":2.5,"y":-1.35},{"s":"Weibull","k":"sim","x":3,"y":-1.05},{"s":"Weibull","k":"sim","x":3.5,"y":-0.68},{"s":"Weibull","k":"sim","x":4,"y":-0.38},{"s":"Weibull","k":"sim","x":4.5,"y":-0.2},{"s":"Weibull","k":"sim","x":5,"y":-0.1},{"s":"Weibull","k":"sim","x":5.5,"y":-0.05},{"s":"Weibull","k":"sim","x":6,"y":-0.03},{"s":"Weibull","k":"sim","x":7,"y":-0.01},{"s":"Weibull","k":"sim","x":11,"y":0},
{"s":"Weibull","k":"th","x":-1.5,"y":-2.06},{"s":"Weibull","k":"th","x":-0.5,"y":-2.03},{"s":"Weibull","k":"th","x":0,"y":-2.0},{"s":"Weibull","k":"th","x":0.5,"y":-1.94},{"s":"Weibull","k":"th","x":1,"y":-1.87},{"s":"Weibull","k":"th","x":1.5,"y":-1.76},
{"s":"lognormal","k":"sim","x":-1.5,"y":-2.09},{"s":"lognormal","k":"sim","x":-1,"y":-2.08},{"s":"lognormal","k":"sim","x":-0.5,"y":-2.06},{"s":"lognormal","k":"sim","x":0,"y":-2.04},{"s":"lognormal","k":"sim","x":0.5,"y":-2.0},{"s":"lognormal","k":"sim","x":1,"y":-1.96},{"s":"lognormal","k":"sim","x":1.5,"y":-1.92},{"s":"lognormal","k":"sim","x":2,"y":-1.87},{"s":"lognormal","k":"sim","x":2.5,"y":-1.8},{"s":"lognormal","k":"sim","x":3,"y":-1.7},{"s":"lognormal","k":"sim","x":3.5,"y":-1.57},{"s":"lognormal","k":"sim","x":4,"y":-1.4},{"s":"lognormal","k":"sim","x":4.5,"y":-1.2},{"s":"lognormal","k":"sim","x":5,"y":-0.98},{"s":"lognormal","k":"sim","x":5.5,"y":-0.76},{"s":"lognormal","k":"sim","x":6,"y":-0.56},{"s":"lognormal","k":"sim","x":6.5,"y":-0.4},{"s":"lognormal","k":"sim","x":7,"y":-0.28},{"s":"lognormal","k":"sim","x":7.5,"y":-0.2},{"s":"lognormal","k":"sim","x":8,"y":-0.14},{"s":"lognormal","k":"sim","x":9,"y":-0.08},{"s":"lognormal","k":"sim","x":10,"y":-0.05},{"s":"lognormal","k":"sim","x":11,"y":-0.03},
{"s":"lognormal","k":"th","x":-1.5,"y":-2.07},{"s":"lognormal","k":"th","x":-0.5,"y":-2.04},{"s":"lognormal","k":"th","x":0,"y":-2.02},{"s":"lognormal","k":"th","x":0.5,"y":-1.98},{"s":"lognormal","k":"th","x":1,"y":-1.94},{"s":"lognormal","k":"th","x":1.5,"y":-1.9}
   ]},
   "mark":{"type":"line","strokeWidth":1.3,"clip":true},
   "encoding":{
    "x":{"field":"x","type":"quantitative","scale":{"domain":[-1.5,11],"nice":false,"zero":false},"axis":{"orient":"bottom","values":[0,2,4,6,8,10],"title":"log στ / ⟨τ⟩"}},
    "y":{"field":"y","type":"quantitative","scale":{"domain":[-2.24,0.18],"nice":false,"zero":false},"axis":{"orient":"left","values":[-2,-1,0],"labels":false,"title":null}},
    "color":{"field":"s","type":"nominal","scale":{"domain":["lognormal","Weibull","gamma"],"range":["#1f1d4e","#3f53a4","#94bae7"]},"legend":{"title":"ψ(τ)","legendX":235,"legendY":67,"titleAnchor":"middle","labelOffset":22,"titlePadding":2,"encode":{"title":{"update":{"dx":{"value":22}}}}}},
    "strokeDash":{"field":"k","type":"nominal","scale":{"domain":["sim","th"],"range":[[1,0],[6,4]]},"legend":null}
   }},
   {"data":{"values":[{"x":0}]},"mark":{"type":"rule","color":"#888888","strokeWidth":1},
    "encoding":{"x":{"field":"x","type":"quantitative","scale":{"domain":[-1.5,11],"nice":false,"zero":false},"axis":{"orient":"bottom","labels":false,"title":null,"tickSize":-2.5,"values":[-1,1,3,5,7,9]}}}},
   {"data":{"values":[{"x":0,"y":-0.29,"t":"Poisson"}]},"mark":{"type":"text","fontSize":14},
    "encoding":{"x":{"field":"x","type":"quantitative","scale":{"domain":[-1.5,11],"nice":false,"zero":false},"axis":{"orient":"top","labels":false,"title":null,"values":[0,2,4,6,8,10]}},
     "y":{"field":"y","type":"quantitative","scale":{"domain":[-2.24,0.18],"nice":false,"zero":false},"axis":{"orient":"left","labels":false,"title":null,"tickSize":-2.5,"values":[-2.222,-2.155,-2.097,-2.046,-1.699,-1.523,-1.398,-1.301,-1.222,-1.155,-1.097,-1.046,-0.699,-0.523,-0.398,-0.301,-0.222,-0.155,-0.097,-0.046]}},
     "text":{"field":"t"}}},
   {"data":{"values":[{"x":4.7,"y":-2.03,"t":"(e)"}]},"mark":{"type":"text","fontSize":17},
    "encoding":{"x":{"field":"x","type":"quantitative","scale":{"domain":[-1.5,11],"nice":false,"zero":false},"axis":{"orient":"top","labels":false,"title":null,"tickSize":-2.5,"values":[-1,1,3,5,7,9]}},
     "y":{"field":"y","type":"quantitative","scale":{"domain":[-2.24,0.18],"nice":false,"zero":false},"axis":{"orient":"right","labels":false,"title":null,"values":[-2,-1,0]}},
     "text":{"field":"t"}}},
   {"data":{"values":[]},"mark":{"type":"point","opacity":0},
    "encoding":{"x":{"field":"x","type":"quantitative","scale":{"domain":[-1.5,11],"nice":false,"zero":false},"axis":null},
     "y":{"field":"y","type":"quantitative","scale":{"domain":[-2.24,0.18],"nice":false,"zero":false},"axis":{"orient":"right","labels":false,"title":null,"tickSize":-2.5,"values":[-2.222,-2.155,-2.097,-2.046,-1.699,-1.523,-1.398,-1.301,-1.222,-1.155,-1.097,-1.046,-0.699,-0.523,-0.398,-0.301,-0.222,-0.155,-0.097,-0.046]}}}}
  ],
  "resolve":{"axis":{"x":"independent","y":"independent"}}
 },
 {"bounds":"flush","spacing":0,"resolve":{"scale":{"color":"independent","strokeDash":"independent"}},
  "vconcat":[
  {"bounds":"flush","spacing":6,"resolve":{"scale":{"color":"independent"}},
   "vconcat":[
    {"width":1,"height":1,"view":{"stroke":null},"data":{"values":[{}]},"mark":{"type":"point","opacity":0},"encoding":{}},
    {"bounds":"flush","spacing":45,"resolve":{"scale":{"color":"independent"}},
     "hconcat":[
      {"width":23,"height":1,"view":{"stroke":null},"data":{"values":[{}]},"mark":{"type":"point","opacity":0},"encoding":{}},
      {"width":121,"height":56,
       "data":{"values":[
{"s":"gamma","x":0.96,"y":0.002},{"s":"gamma","x":0.98,"y":0.004},{"s":"gamma","x":0.99,"y":0.012},{"s":"gamma","x":0.994,"y":0.03},{"s":"gamma","x":0.996,"y":0.05},{"s":"gamma","x":0.998,"y":0.1},{"s":"gamma","x":0.999,"y":0.17},{"s":"gamma","x":0.9995,"y":0.28},{"s":"gamma","x":1,"y":0.85},
{"s":"Weibull","x":0.96,"y":0.005},{"s":"Weibull","x":0.97,"y":0.008},{"s":"Weibull","x":0.98,"y":0.013},{"s":"Weibull","x":0.985,"y":0.022},{"s":"Weibull","x":0.99,"y":0.05},{"s":"Weibull","x":0.992,"y":0.085},{"s":"Weibull","x":0.994,"y":0.15},{"s":"Weibull","x":0.996,"y":0.27},{"s":"Weibull","x":0.998,"y":0.46},{"s":"Weibull","x":0.999,"y":0.64},{"s":"Weibull","x":1,"y":0.95},
{"s":"lognormal","x":0.96,"y":0.01},{"s":"lognormal","x":0.97,"y":0.015},{"s":"lognormal","x":0.975,"y":0.02},{"s":"lognormal","x":0.98,"y":0.03},{"s":"lognormal","x":0.985,"y":0.05},{"s":"lognormal","x":0.988,"y":0.08},{"s":"lognormal","x":0.99,"y":0.12},{"s":"lognormal","x":0.992,"y":0.19},{"s":"lognormal","x":0.994,"y":0.3},{"s":"lognormal","x":0.996,"y":0.45},{"s":"lognormal","x":0.998,"y":0.65},{"s":"lognormal","x":0.999,"y":0.8},{"s":"lognormal","x":1,"y":1.0}
       ]},
       "mark":{"type":"line","strokeWidth":1.3,"clip":true},
       "encoding":{
        "x":{"field":"x","type":"quantitative","scale":{"domain":[0.96,1],"nice":false,"zero":false},"axis":{"values":[0.96,0.98,1],"format":".2~f","title":"ξE","ticks":false,"tickSize":0,"labelFontSize":13,"labelPadding":8,"titlePadding":0,"titleFontSize":15}},
        "y":{"field":"y","type":"quantitative","scale":{"domain":[0,1],"nice":false},"axis":{"values":[0,0.2,0.4,0.6,0.8,1],"format":".1~f","title":"ρf","ticks":false,"tickSize":0,"labelFontSize":11,"labelPadding":3,"titlePadding":16,"titleFontSize":15}},
        "color":{"field":"s","type":"nominal","scale":{"domain":["lognormal","Weibull","gamma"],"range":["#1f1d4e","#3f53a4","#94bae7"]},"legend":null}
       }},
      {"width":121,"height":56,
       "data":{"values":[
{"s":"gamma","x":0.96,"y":3.43},{"s":"gamma","x":1,"y":0},
{"s":"Weibull","x":0.96,"y":2.5},{"s":"Weibull","x":1,"y":0},
{"s":"lognormal","x":0.96,"y":2.1},{"s":"lognormal","x":1,"y":0}
       ]},
       "mark":{"type":"line","strokeWidth":1.3,"clip":true},
       "encoding":{
        "x":{"field":"x","type":"quantitative","scale":{"domain":[0.96,1],"nice":false,"zero":false},"axis":{"values":[0.96,0.98,1],"format":".2~f","title":"ξE","ticks":false,"tickSize":0,"labelFontSize":13,"labelPadding":8,"titlePadding":0,"titleFontSize":15}},
        "y":{"field":"y","type":"quantitative","scale":{"domain":[0,4],"nice":false},"axis":{"values":[0,1,2,3,4],"format":"d","title":"ξμ","ticks":false,"tickSize":0,"labelFontSize":13,"labelPadding":2,"titlePadding":1,"titleFontSize":15}},
        "color":{"field":"s","type":"nominal","scale":{"domain":["lognormal","Weibull","gamma"],"range":["#1f1d4e","#3f53a4","#94bae7"]},"legend":null}
       }}
     ]}
   ]},
  {"width":393,"height":151,
   "layer":[
    {"data":{"values":[
{"s":"gamma","x":-3,"y":-2.12},{"s":"gamma","x":-2.5,"y":-2.11},{"s":"gamma","x":-2,"y":-2.1},{"s":"gamma","x":-1.5,"y":-2.1},{"s":"gamma","x":-1,"y":-2.09},{"s":"gamma","x":-0.6,"y":-2.08},{"s":"gamma","x":-0.4,"y":-2.06},{"s":"gamma","x":-0.25,"y":-2.04},{"s":"gamma","x":-0.15,"y":-2.01},{"s":"gamma","x":-0.1,"y":-1.97},{"s":"gamma","x":-0.06,"y":-1.9},{"s":"gamma","x":-0.04,"y":-1.82},{"s":"gamma","x":-0.02,"y":-1.65},{"s":"gamma","x":-0.01,"y":-1.4},{"s":"gamma","x":-0.005,"y":-1.05},{"s":"gamma","x":0,"y":-0.1},
{"s":"Weibull","x":-3,"y":-2.1},{"s":"Weibull","x":-2.5,"y":-2.1},{"s":"Weibull","x":-2,"y":-2.09},{"s":"Weibull","x":-1.5,"y":-2.09},{"s":"Weibull","x":-1,"y":-2.08},{"s":"Weibull","x":-0.6,"y":-2.07},{"s":"Weibull","x":-0.4,"y":-2.05},{"s":"Weibull","x":-0.25,"y":-2.03},{"s":"Weibull","x":-0.15,"y":-1.99},{"s":"Weibull","x":-0.1,"y":-1.95},{"s":"Weibull","x":-0.06,"y":-1.87},{"s":"Weibull","x":-0.04,"y":-1.79},{"s":"Weibull","x":-0.02,"y":-1.58},{"s":"Weibull","x":-0.01,"y":-1.25},{"s":"Weibull","x":-0.005,"y":-0.85},{"s":"Weibull","x":0,"y":-0.02},
{"s":"lognormal","x":-3,"y":-2.1},{"s":"lognormal","x":-2.5,"y":-2.1},{"s":"lognormal","x":-2,"y":-2.09},{"s":"lognormal","x":-1.5,"y":-2.09},{"s":"lognormal","x":-1,"y":-2.08},{"s":"lognormal","x":-0.6,"y":-2.07},{"s":"lognormal","x":-0.4,"y":-2.05},{"s":"lognormal","x":-0.25,"y":-2.03},{"s":"lognormal","x":-0.15,"y":-1.99},{"s":"lognormal","x":-0.1,"y":-1.95},{"s":"lognormal","x":-0.06,"y":-1.87},{"s":"lognormal","x":-0.04,"y":-1.78},{"s":"lognormal","x":-0.02,"y":-1.55},{"s":"lognormal","x":-0.01,"y":-1.2},{"s":"lognormal","x":-0.005,"y":-0.8},{"s":"lognormal","x":0,"y":0}
    ]},
    "mark":{"type":"line","strokeWidth":1.3,"clip":true},
    "encoding":{
     "x":{"field":"x","type":"quantitative","scale":{"domain":[-3,0.11],"nice":false,"zero":false},"axis":{"orient":"bottom","values":[-3,-2,-1,0],"labelExpr":"datum.value < 0 ? '-' + abs(datum.value) : '' + datum.value","title":"log ξE"}},
     "y":{"field":"y","type":"quantitative","scale":{"domain":[-2.24,0.18],"nice":false,"zero":false},"axis":{"orient":"left","values":[-2,-1,0],"labels":false,"title":null}},
     "color":{"field":"s","type":"nominal","scale":{"domain":["lognormal","Weibull","gamma"],"range":["#1f1d4e","#3f53a4","#94bae7"]},"legend":null}
    }},
    {"data":{"values":[{"x":-2.86,"y":-1.89,"t":"(f)"}]},"mark":{"type":"text","fontSize":17},
     "encoding":{"x":{"field":"x","type":"quantitative","scale":{"domain":[-3,0.11],"nice":false,"zero":false},"axis":{"orient":"bottom","labels":false,"title":null,"tickSize":-2.5,"values":[-2.9,-2.8,-2.7,-2.6,-2.5,-2.4,-2.3,-2.2,-2.1,-1.9,-1.8,-1.7,-1.6,-1.5,-1.4,-1.3,-1.2,-1.1,-0.9,-0.8,-0.7,-0.6,-0.5,-0.4,-0.3,-0.2,-0.1,0.1]}},
      "y":{"field":"y","type":"quantitative","scale":{"domain":[-2.24,0.18],"nice":false,"zero":false},"axis":{"orient":"left","labels":false,"title":null,"tickSize":-2.5,"values":[-2.222,-2.155,-2.097,-2.046,-1.699,-1.523,-1.398,-1.301,-1.222,-1.155,-1.097,-1.046,-0.699,-0.523,-0.398,-0.301,-0.222,-0.155,-0.097,-0.046]}},
      "text":{"field":"t"}}},
    {"data":{"values":[{"x":-2.7,"y":-1.89,"t":"[legend (e)]"}]},"mark":{"type":"text","fontSize":14,"align":"left"},
     "encoding":{"x":{"field":"x","type":"quantitative","scale":{"domain":[-3,0.11],"nice":false,"zero":false},"axis":{"orient":"top","labels":false,"title":null,"values":[-3,-2,-1,0]}},
      "y":{"field":"y","type":"quantitative","scale":{"domain":[-2.24,0.18],"nice":false,"zero":false},"axis":{"orient":"right","labels":false,"title":null,"values":[-2,-1,0]}},
      "text":{"field":"t"}}},
    {"data":{"values":[]},"mark":{"type":"point","opacity":0},
     "encoding":{"x":{"field":"x","type":"quantitative","scale":{"domain":[-3,0.11],"nice":false,"zero":false},"axis":{"orient":"top","labels":false,"title":null,"tickSize":-2.5,"values":[-2.9,-2.8,-2.7,-2.6,-2.5,-2.4,-2.3,-2.2,-2.1,-1.9,-1.8,-1.7,-1.6,-1.5,-1.4,-1.3,-1.2,-1.1,-0.9,-0.8,-0.7,-0.6,-0.5,-0.4,-0.3,-0.2,-0.1,0.1]}},
      "y":{"field":"y","type":"quantitative","scale":{"domain":[-2.24,0.18],"nice":false,"zero":false},"axis":{"orient":"right","labels":false,"title":null,"tickSize":-2.5,"values":[-2.222,-2.155,-2.097,-2.046,-1.699,-1.523,-1.398,-1.301,-1.222,-1.155,-1.097,-1.046,-0.699,-0.523,-0.398,-0.301,-0.222,-0.155,-0.097,-0.046]}}}}
   ],
   "resolve":{"axis":{"x":"independent","y":"independent"}}
  }
  ]}
 ]}
]
}
